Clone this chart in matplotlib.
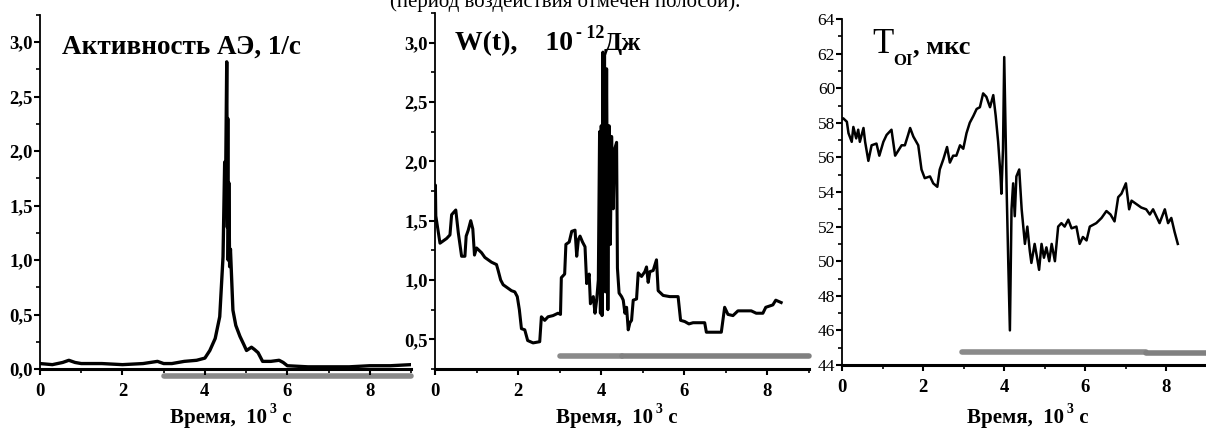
import numpy as np
import matplotlib.pyplot as plt
from matplotlib.ticker import MultipleLocator, FuncFormatter

plt.rcParams['font.family'] = ['Liberation Serif', 'DejaVu Serif']

# Активность АЭ, 1/с
ae_t = [0, 0.3, 0.55, 0.7, 0.85, 1.0, 1.5, 2.0, 2.5, 2.85, 3.0, 3.2, 3.5, 3.8, 4.0,
        4.12, 4.25, 4.36, 4.44, 4.48, 4.5, 4.53, 4.545, 4.555, 4.565, 4.58, 4.6, 4.62,
        4.68, 4.75, 4.85, 4.95, 5.01, 5.13, 5.2, 5.29, 5.4, 5.6, 5.8, 5.9, 6.0, 6.5,
        7.0, 7.5, 8.0, 8.5, 9.0]
ae_v = [0.05, 0.04, 0.06, 0.08, 0.06, 0.05, 0.05, 0.04, 0.05, 0.07, 0.05, 0.05, 0.07, 0.08, 0.1,
        0.17, 0.28, 0.48, 1.03, 1.9, 1.6, 2.82, 1.3, 2.3, 1.0, 1.71, 0.94, 1.1,
        0.54, 0.4, 0.3, 0.22, 0.17, 0.2, 0.18, 0.15, 0.07, 0.07, 0.08, 0.06, 0.03, 0.02,
        0.02, 0.02, 0.03, 0.03, 0.04]

# W(t), 10^-12 Дж
w_t = [0.0, 0.01, 0.02, 0.12, 0.2, 0.28, 0.36, 0.4, 0.5, 0.56, 0.64, 0.72, 0.75, 0.8, 0.86,
       0.91, 0.95, 1.0, 1.12, 1.2, 1.36, 1.48, 1.52, 1.58, 1.64, 1.76, 1.84, 1.92, 1.98,
       2.03, 2.08, 2.16, 2.23, 2.36, 2.52, 2.56, 2.64, 2.72, 2.84, 2.96, 3.02, 3.04, 3.12,
       3.15, 3.23, 3.29, 3.37, 3.41, 3.45, 3.49, 3.55, 3.61, 3.65, 3.71, 3.74, 3.81, 3.85,
       3.89, 3.93, 3.96, 3.98, 4.0, 4.02, 4.04, 4.06, 4.08, 4.1, 4.13, 4.16, 4.19, 4.22,
       4.25, 4.29, 4.32, 4.37, 4.39, 4.43, 4.49, 4.53, 4.57, 4.61, 4.65, 4.69, 4.73, 4.77,
       4.85, 4.89, 4.97, 5.05, 5.09, 5.13, 5.17, 5.25, 5.33, 5.37, 5.49, 5.65, 5.85, 5.91,
       6.01, 6.11, 6.21, 6.49, 6.53, 6.89, 6.97, 7.05, 7.17, 7.29, 7.61, 7.73, 7.89, 7.96,
       8.13, 8.2, 8.33]
w_v = [1.59, 1.8, 1.54, 1.31, 1.33, 1.35, 1.38, 1.55, 1.59, 1.4, 1.2, 1.2, 1.37, 1.42, 1.5,
       1.43, 1.21, 1.27, 1.23, 1.19, 1.15, 1.13, 1.08, 1.0, 0.96, 0.93, 0.91, 0.9, 0.86,
       0.75, 0.59, 0.58, 0.49, 0.47, 0.48, 0.69, 0.66, 0.69, 0.7, 0.72, 0.71, 1.02, 1.05,
       1.3, 1.32, 1.41, 1.42, 1.2, 1.34, 1.37, 1.32, 1.28, 0.97, 1.05, 0.8, 0.86, 0.72,
       0.83, 1.0, 2.25, 0.72, 2.3, 0.7, 2.92, 1.5, 2.9, 0.9, 2.78, 0.75, 2.3, 1.3,
       2.21, 1.6, 2.1, 2.16, 1.1, 0.89, 0.86, 0.83, 0.72, 0.77, 0.58, 0.64, 0.66, 0.83,
       0.84, 1.06, 1.03, 1.07, 1.11, 0.98, 1.07, 1.08, 1.17, 0.91, 0.87, 0.86, 0.86, 0.66,
       0.65, 0.63, 0.64, 0.64, 0.56, 0.56, 0.77, 0.71, 0.7, 0.74, 0.74, 0.72, 0.72, 0.77,
       0.79, 0.83, 0.81]

# T_OI, мкс
t_t = [0.0, 0.03, 0.12, 0.16, 0.24, 0.28, 0.35, 0.4, 0.44, 0.53, 0.57, 0.65, 0.73, 0.85, 0.92,
       1.02, 1.1, 1.22, 1.31, 1.39, 1.47, 1.55, 1.63, 1.68, 1.76, 1.88, 1.96, 2.04, 2.17,
       2.25, 2.35, 2.41, 2.5, 2.59, 2.66, 2.74, 2.82, 2.91, 2.99, 3.07, 3.15, 3.24, 3.32,
       3.4, 3.48, 3.56, 3.65, 3.73, 3.79, 3.85, 3.91, 3.93, 3.97, 4.0, 4.06, 4.1, 4.14,
       4.18, 4.22, 4.26, 4.3, 4.37, 4.43, 4.51, 4.57, 4.63, 4.67, 4.75, 4.81, 4.86, 4.92,
       4.98, 5.04, 5.11, 5.17, 5.25, 5.33, 5.41, 5.49, 5.58, 5.66, 5.78, 5.86, 5.94, 6.03,
       6.11, 6.27, 6.4, 6.52, 6.62, 6.72, 6.81, 6.89, 7.0, 7.08, 7.14, 7.26, 7.38, 7.5,
       7.59, 7.67, 7.75, 7.83, 7.96, 8.04, 8.12, 8.2, 8.28]
t_v = [58.2, 58.26, 58.06, 57.4, 56.9, 57.76, 57.1, 57.6, 56.9, 57.7, 56.9, 55.8, 56.7, 56.8, 56.1,
       56.9, 57.3, 57.6, 56.1, 56.4, 56.7, 56.7, 57.3, 57.7, 57.2, 56.7, 55.3, 54.8, 54.9,
       54.5, 54.3, 55.3, 55.9, 56.6, 55.7, 56.1, 56.1, 56.7, 56.5, 57.4, 58.0, 58.4, 58.8,
       58.9, 59.7, 59.5, 58.9, 59.6, 58.4, 56.9, 54.9, 53.9, 56.5, 61.8, 54.1, 49.9, 46.0,
       53.0, 54.5, 52.6, 54.9, 55.3, 53.0, 51.0, 52.0, 50.6, 49.9, 51.0, 50.2, 49.5, 51.0,
       50.2, 50.8, 50.0, 51.0, 50.0, 52.0, 52.2, 52.0, 52.4, 51.9, 52.0, 51.0, 51.4, 51.2,
       52.0, 52.2, 52.5, 52.9, 52.7, 52.3, 53.7, 53.9, 54.5, 53.0, 53.5, 53.3, 53.1, 53.0,
       52.7, 53.0, 52.6, 52.2, 53.0, 52.2, 52.5, 51.7, 51.0]

# полоса воздействия: (начало, конец, уровень)
bar1 = [(3.0, 9.0, -0.065)]
bar2 = [(3.0, 4.5, 0.36), (4.5, 9.0, 0.36)]
bar3 = [(2.95, 7.5, 44.78), (7.5, 9.0, 44.7)]
bar_colors = ['#8a8a8a', '#808080']

comma = FuncFormatter(lambda v, p: f"{v:.1f}".replace('.', ','))

fig = plt.figure(figsize=(12.06, 4.30), dpi=100)
W, H = 1206, 430
ax1 = fig.add_axes([40 / W, 1 - 369 / H, 371 / W, 354 / H])
ax2 = fig.add_axes([435 / W, 1 - 369 / H, 374 / W, 356 / H])
ax3 = fig.add_axes([842 / W, 1 - 365 / H, 365 / W, 346 / H])


def style(ax, ybold=True):
    for s in ['top', 'right']:
        ax.spines[s].set_visible(False)
    ax.spines['bottom'].set_linewidth(2.2)
    ax.spines['left'].set_linewidth(1.3)
    ax.set_xlim(0, 9)
    ax.xaxis.set_major_locator(MultipleLocator(2))
    ax.xaxis.set_minor_locator(MultipleLocator(1))
    ax.tick_params(which='major', direction='out', length=4, width=1.5, labelsize=13.5)
    ax.tick_params(which='minor', direction='out', length=3, width=1.2)
    ax.tick_params(axis='x', which='major', pad=6)
    ax.tick_params(axis='y', which='major', pad=1)
    for lab in ax.get_xticklabels():
        lab.set_fontweight('bold')
    for lab in ax.get_yticklabels():
        lab.set_fontweight('bold' if ybold else 'normal')


ax1.plot(ae_t, ae_v, color='black', lw=2.4)
ax1.set_ylim(0, 3.25)
ax1.yaxis.set_major_locator(MultipleLocator(0.5))
ax1.yaxis.set_minor_locator(MultipleLocator(0.25))
ax1.yaxis.set_major_formatter(comma)
style(ax1)

ax2.plot(w_t, w_v, color='black', lw=2.2)
ax2.set_ylim(0.25, 3.25)
ax2.yaxis.set_major_locator(MultipleLocator(0.5))
ax2.yaxis.set_minor_locator(MultipleLocator(0.25))
ax2.yaxis.set_major_formatter(comma)
style(ax2)

ax3.plot(t_t, t_v, color='black', lw=1.8)
ax3.set_ylim(44, 64)
ax3.yaxis.set_major_locator(MultipleLocator(2))
ax3.yaxis.set_minor_locator(MultipleLocator(1))
style(ax3, ybold=False)
ax3.tick_params(axis='y', labelsize=12.5)

for ax, bars in [(ax1, bar1), (ax2, bar2), (ax3, bar3)]:
    for i, (a, b, lvl) in enumerate(bars):
        ax.plot([a, b], [lvl, lvl], color=bar_colors[i % 2], lw=4, solid_capstyle='round',
                clip_on=False, zorder=1)

# заголовки панелей
ax1.text(0.059, 0.89, "Активность АЭ, 1/с", transform=ax1.transAxes,
         fontsize=19.5, fontweight='bold', va='baseline')

yb = 0.896
t = ax2.text(0.053, yb, "W(t),    10", transform=ax2.transAxes,
             fontsize=20, fontweight='bold', va='baseline')
sup = ax2.annotate("- 12", xy=(1, yb), xycoords=(t, 'axes fraction'), xytext=(2, 9),
                   textcoords='offset points', fontsize=13, fontweight='bold', va='baseline')
ax2.annotate("Дж", xy=(1, yb), xycoords=(sup, 'axes fraction'), xytext=(0, 0),
             textcoords='offset points', fontsize=19, fontweight='bold', va='baseline')

yb3 = 0.902
tt = ax3.text(0.082, yb3, "T", transform=ax3.transAxes, fontsize=25, va='baseline')
sub = ax3.annotate("OI", xy=(1, yb3), xycoords=(tt, 'axes fraction'), xytext=(0, -9),
                   textcoords='offset points', fontsize=12, fontweight='bold', va='baseline')
ax3.annotate(", мкс", xy=(1, yb3), xycoords=(sub, 'axes fraction'), xytext=(0, 0),
             textcoords='offset points', fontsize=19, fontweight='bold', va='baseline')

# подписи оси X
ylab = 1 - 423 / H
for x0 in [170, 556, 967]:
    base = fig.text(x0 / W, ylab, "Время,  10", fontsize=15, fontweight='bold',
                    va='baseline')
    ann = ax3.annotate("3", xy=(1, ylab), xycoords=(base, 'figure fraction'),
                       xytext=(2, 7), textcoords='offset points', fontsize=10,
                       fontweight='bold', va='baseline', annotation_clip=False)
    ax3.annotate(" с", xy=(1, ylab), xycoords=(ann, 'figure fraction'),
                 xytext=(0, 0), textcoords='offset points', fontsize=15,
                 fontweight='bold', va='baseline', annotation_clip=False)

fig.text(565 / W, 1 - 7 / H, "(период воздействия отмечен полосой).", ha='center',
         va='baseline', fontsize=15)

fig.savefig('out.png', dpi=100)
